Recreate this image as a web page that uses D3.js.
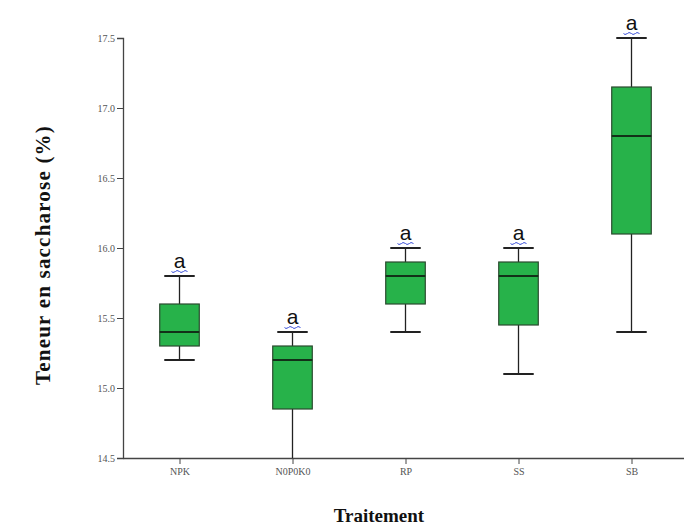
<!DOCTYPE html>
<html>
<head>
<meta charset="utf-8">
<script src="https://cdn.jsdelivr.net/npm/d3@7"></script>
<style>
  body { margin: 0; background: #fff; }
  svg { display: block; }
</style>
</head>
<body>
<svg id="chart" width="684" height="529"></svg>
<script>
// Sucrose content per treatment: five-number summaries
const categories = ["NPK", "N0P0K0", "RP", "SS", "SB"];
const whiskerLow  = [15.2, 14.5, 15.4, 15.1, 15.4];
const q1          = [15.3, 14.85, 15.6, 15.45, 16.1];
const median      = [15.4, 15.2, 15.8, 15.8, 16.8];
const q3          = [15.6, 15.3, 15.9, 15.9, 17.15];
const whiskerHigh = [15.8, 15.4, 16.0, 16.0, 17.5];
const groupLetters = ["a", "a", "a", "a", "a"];
const yTicks = [14.5, 15.0, 15.5, 16.0, 16.5, 17.0, 17.5];

const svg = d3.select("#chart");

const x = d3.scalePoint().domain(categories).range([123, 688]).padding(0.5);
const y = d3.scaleLinear().domain([14.5, 17.5]).range([458, 38]);

const step = x.step();
const boxW = step * 0.35;
const capW = boxW * 0.77;

// Y axis
const yAxis = svg.append("g")
  .attr("transform", "translate(123,0)")
  .call(d3.axisLeft(y).tickValues(yTicks).tickSize(6).tickFormat(d3.format(".1f")));
yAxis.select(".domain").attr("stroke", "#444").attr("stroke-width", 1.3);
yAxis.selectAll(".tick line").attr("stroke", "#444");
yAxis.selectAll(".tick text")
  .attr("font-family", "Liberation Serif, Times New Roman, serif")
  .attr("font-size", 10).attr("fill", "#555").attr("x", -8);

// X axis
const xAxis = svg.append("g")
  .attr("transform", "translate(0,458)")
  .call(d3.axisBottom(x).tickSize(6).tickSizeOuter(0));
xAxis.select(".domain").attr("stroke", "#444").attr("stroke-width", 1.3);
xAxis.selectAll(".tick line").attr("stroke", "#444");
xAxis.selectAll(".tick text")
  .attr("font-family", "Liberation Serif, Times New Roman, serif")
  .attr("font-size", 10).attr("fill", "#555").attr("dy", "0.75em");

// Boxes
const data = categories.map((c, i) => ({
  c, lo: whiskerLow[i], q1: q1[i], med: median[i], q3: q3[i], hi: whiskerHigh[i], letter: groupLetters[i]
}));

const g = svg.append("g");
const box = g.selectAll("g.box").data(data).join("g").attr("class", "box")
  .attr("transform", d => `translate(${x(d.c)},0)`);

// whisker stems
box.append("line")
  .attr("x1", 0).attr("x2", 0)
  .attr("y1", d => y(d.hi)).attr("y2", d => y(d.q3))
  .attr("stroke", "#222").attr("stroke-width", 1.3);
box.append("line")
  .attr("x1", 0).attr("x2", 0)
  .attr("y1", d => y(d.q1)).attr("y2", d => y(d.lo))
  .attr("stroke", "#222").attr("stroke-width", 1.3);
// caps
box.append("line")
  .attr("x1", -capW / 2).attr("x2", capW / 2)
  .attr("y1", d => y(d.hi)).attr("y2", d => y(d.hi))
  .attr("stroke", "#222").attr("stroke-width", 2);
box.append("line")
  .attr("x1", -capW / 2).attr("x2", capW / 2)
  .attr("y1", d => y(d.lo)).attr("y2", d => y(d.lo))
  .attr("stroke", "#222").attr("stroke-width", 2)
  .attr("display", d => d.lo <= 14.5 ? "none" : null);
// box body
box.append("rect")
  .attr("x", -boxW / 2).attr("width", boxW)
  .attr("y", d => y(d.q3)).attr("height", d => y(d.q1) - y(d.q3))
  .attr("fill", "#27b24a").attr("stroke", "#2b4a2f").attr("stroke-width", 1.2);
// median
box.append("line")
  .attr("x1", -boxW / 2).attr("x2", boxW / 2)
  .attr("y1", d => y(d.med)).attr("y2", d => y(d.med))
  .attr("stroke", "#123018").attr("stroke-width", 2.2);

// group letters with a wavy underline
box.append("text")
  .attr("x", 0).attr("y", d => y(d.hi) - 8)
  .attr("text-anchor", "middle")
  .attr("font-family", "Liberation Sans, Arial, sans-serif")
  .attr("font-size", 21).attr("fill", "#111")
  .text(d => d.letter);
box.append("path")
  .attr("d", d => {
    const yy = y(d.hi) - 4.5;
    let p = `M${-8},${yy}`;
    for (let k = 0; k < 4; k++) {
      const x0 = -8 + k * 4;
      p += ` Q${x0 + 1},${yy + (k % 2 ? -2 : 2)} ${x0 + 4},${yy}`;
    }
    return p;
  })
  .attr("fill", "none").attr("stroke", "#3a4fd8").attr("stroke-width", 1);

// Axis titles
svg.append("text")
  .attr("transform", "translate(50,255) rotate(-90)")
  .attr("text-anchor", "middle")
  .attr("font-family", "Liberation Serif, Times New Roman, serif")
  .attr("font-weight", "bold").attr("font-size", 21).attr("fill", "#111")
  .attr("letter-spacing", 1.2)
  .text("Teneur en saccharose (%)");

svg.append("text")
  .attr("x", 379).attr("y", 522)
  .attr("text-anchor", "middle")
  .attr("font-family", "Liberation Serif, Times New Roman, serif")
  .attr("font-weight", "bold").attr("font-size", 19).attr("fill", "#111")
  .text("Traitement");
</script>
</body>
</html>
